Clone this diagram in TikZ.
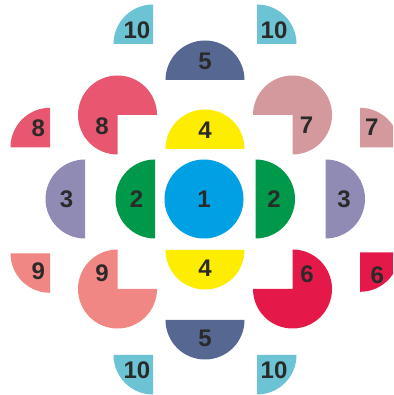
\documentclass[tikz,border=0pt]{standalone}
\usepackage{fontspec}
\setmainfont{Liberation Sans}
\definecolor{tealcol}{HTML}{6CC3D3}
\definecolor{slatecol}{HTML}{566891}
\definecolor{pinkcol}{HTML}{E8566F}
\definecolor{rosecol}{HTML}{D3999C}
\definecolor{yellowcol}{HTML}{FFED00}
\definecolor{lavcol}{HTML}{8F8BB5}
\definecolor{greencol}{HTML}{00994A}
\definecolor{bluecol}{HTML}{00A1E4}
\definecolor{salmoncol}{HTML}{F08784}
\definecolor{crimsoncol}{HTML}{E4194A}
\definecolor{inkcol}{HTML}{2A2A2A}

\begin{document}
\begin{tikzpicture}[
  x=1pt, y=1pt,
  num/.style={font=\fontsize{24}{24}\selectfont\bfseries, text=inkcol, inner sep=0pt}
]
\fill[white] (0,0) rectangle (393,395);
\useasboundingbox (0,0) rectangle (393,395);
\clip (0,0) rectangle (393,395);

% Centre disc
\fill[bluecol] (204,196) circle[radius=39.5pt];
\node[num] (one) at (204,196) {1};

% Half discs
\foreach \n/\x/\y/\a/\c/\t in {fiveT/205/315/0/slatecol/5, fourT/205/246/0/yellowcol/4,
    fourB/205/145/180/yellowcol/4, fiveB/205/75/180/slatecol/5,
    twoL/155/196/90/greencol/2, threeL/85/196/90/lavcol/3,
    twoR/255.5/196/-90/greencol/2, threeR/325.5/196/-90/lavcol/3} {
  \fill[\c] (\x,\y) ++(\a:39.5) arc[start angle=\a, delta angle=180, radius=39.5pt] -- cycle;
  \path (\x,\y) ++(\a+90:18.5) node[num] (\n) {\t};
}

% Quarter discs
\foreach \n/\x/\y/\a/\c/\t/\dx/\dy in {tenTL/153/351/90/tealcol/10/-16/14, tenTR/257/351/0/tealcol/10/17/14,
    tenBL/153/40/180/tealcol/10/-16/-15, tenBR/257/40/270/tealcol/10/17/-15,
    eightS/50/247.7/90/pinkcol/8/-11.7/19, sevenS/360/247.7/0/rosecol/7/11.7/20,
    nineS/50/141.7/180/salmoncol/9/-11.7/-18.4, sixS/360/142.7/270/crimsoncol/6/17.3/-23.4} {
  \fill[\c] (\x,\y) -- ++(\a:39.5) arc[start angle=\a, delta angle=90, radius=39.5pt] -- cycle;
  \node[num] (\n) at (\x+\dx,\y+\dy) {\t};
}

% Three-quarter discs
\foreach \n/\x/\y/\a/\c/\t/\dx/\dy in {eightB/117.5/280/0/pinkcol/8/-15.4/-11.7, sevenB/292.5/280/270/rosecol/7/14/-10.7,
    nineB/117.5/106/90/salmoncol/9/-15.4/15.7, sixB/292.5/106/180/crimsoncol/6/14.6/14.3} {
  \fill[\c] (\x,\y) -- ++(\a:39.5) arc[start angle=\a, delta angle=270, radius=39.5pt] -- cycle;
  \node[num] (\n) at (\x+\dx,\y+\dy) {\t};
}
\end{tikzpicture}
\end{document}
